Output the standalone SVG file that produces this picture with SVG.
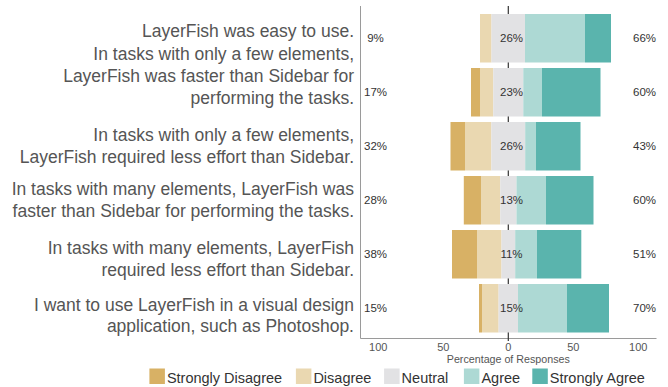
<svg xmlns="http://www.w3.org/2000/svg" width="668" height="387" viewBox="0 0 668 387">
<style>
text{font-family:"Liberation Sans",Arial,sans-serif}
.q{font-size:17.5px;fill:#555;text-anchor:end}
.p{font-size:11.5px;fill:#333;text-anchor:middle}
.t{font-size:11px;fill:#555;text-anchor:middle}
.lg{font-size:14.5px;fill:#333}
.sd{fill:#D8B165}.d{fill:#EAD8B1}.n{fill:#E2E2E4}.a{fill:#ADD9D4}.sa{fill:#5AB4AD}
.frame{stroke:#9a9a9a;stroke-width:1;fill:none}
</style>
<rect width="668" height="387" fill="#fff"/>
<g id="axes">
<path class="frame" d="M360.5 6V338.5H656.5"/>
<line x1="508.3" y1="6" x2="508.3" y2="341" stroke="#333" stroke-width="1.2"/>
<text class="t" x="378.3" y="351">100</text>
<text class="t" x="443.3" y="351">50</text>
<text class="t" x="508.3" y="351">0</text>
<text class="t" x="573.3" y="351">50</text>
<text class="t" x="638.3" y="351">100</text>
<text class="t" x="508.3" y="363.3" style="font-size:10.7px">Percentage of Responses</text>
</g>
<g id="row1">
<text class="q" x="354" y="36.7">LayerFish was easy to use.</text>
<rect class="d" x="480" y="14" width="11.5" height="48.5"/>
<rect class="n" x="491.5" y="14" width="33.5" height="48.5"/>
<rect class="a" x="525" y="14" width="60" height="48.5"/>
<rect class="sa" x="585" y="14" width="26" height="48.5"/>
<text class="p" x="375.5" y="42.3">9%</text>
<text class="p" x="511.5" y="42.3">26%</text>
<text class="p" x="644.5" y="42.3">66%</text>
</g>
<g id="row2">
<text class="q" x="354" y="59.5">In tasks with only a few elements,</text>
<text class="q" x="354" y="81.5">LayerFish was faster than Sidebar for</text>
<text class="q" x="354" y="103.5">performing the tasks.</text>
<rect class="sd" x="471" y="68" width="9" height="48.5"/>
<rect class="d" x="480" y="68" width="13.3" height="48.5"/>
<rect class="n" x="493.3" y="68" width="30" height="48.5"/>
<rect class="a" x="523.3" y="68" width="18.7" height="48.5"/>
<rect class="sa" x="542" y="68" width="58.5" height="48.5"/>
<text class="p" x="375.5" y="96.3">17%</text>
<text class="p" x="511.5" y="96.3">23%</text>
<text class="p" x="644.5" y="96.3">60%</text>
</g>
<g id="row3">
<text class="q" x="354" y="140.7">In tasks with only a few elements,</text>
<text class="q" x="354" y="162.7">LayerFish required less effort than Sidebar.</text>
<rect class="sd" x="450.5" y="122" width="14.5" height="48.5"/>
<rect class="d" x="465" y="122" width="26.4" height="48.5"/>
<rect class="n" x="491.4" y="122" width="33.8" height="48.5"/>
<rect class="a" x="525.2" y="122" width="10.8" height="48.5"/>
<rect class="sa" x="536" y="122" width="44.5" height="48.5"/>
<text class="p" x="375.5" y="150.3">32%</text>
<text class="p" x="511.5" y="150.3">26%</text>
<text class="p" x="644.5" y="150.3">43%</text>
</g>
<g id="row4">
<text class="q" x="354" y="195">In tasks with many elements, LayerFish was</text>
<text class="q" x="354" y="216.8">faster than Sidebar for performing the tasks.</text>
<rect class="sd" x="463.8" y="176" width="17.2" height="48.5"/>
<rect class="d" x="481" y="176" width="19.3" height="48.5"/>
<rect class="n" x="500.3" y="176" width="16.2" height="48.5"/>
<rect class="a" x="516.5" y="176" width="29.5" height="48.5"/>
<rect class="sa" x="546" y="176" width="47.5" height="48.5"/>
<text class="p" x="375.5" y="204.3">28%</text>
<text class="p" x="511.5" y="204.3">13%</text>
<text class="p" x="644.5" y="204.3">60%</text>
</g>
<g id="row5">
<text class="q" x="354" y="254">In tasks with many elements, LayerFish</text>
<text class="q" x="354" y="275.5">required less effort than Sidebar.</text>
<rect class="sd" x="452" y="230" width="25" height="48.5"/>
<rect class="d" x="477" y="230" width="24.5" height="48.5"/>
<rect class="n" x="501.5" y="230" width="13.7" height="48.5"/>
<rect class="a" x="515.2" y="230" width="21.8" height="48.5"/>
<rect class="sa" x="537" y="230" width="44.3" height="48.5"/>
<text class="p" x="375.5" y="258.3">38%</text>
<text class="p" x="511.5" y="258.3">11%</text>
<text class="p" x="644.5" y="258.3">51%</text>
</g>
<g id="row6">
<text class="q" x="354" y="311">I want to use LayerFish in a visual design</text>
<text class="q" x="354" y="332">application, such as Photoshop.</text>
<rect class="sd" x="479" y="284" width="3" height="48.5"/>
<rect class="d" x="482" y="284" width="16.6" height="48.5"/>
<rect class="n" x="498.6" y="284" width="19.4" height="48.5"/>
<rect class="a" x="518" y="284" width="49" height="48.5"/>
<rect class="sa" x="567" y="284" width="42" height="48.5"/>
<text class="p" x="375.5" y="312.3">15%</text>
<text class="p" x="511.5" y="312.3">15%</text>
<text class="p" x="644.5" y="312.3">70%</text>
</g>
<g id="legend">
<rect class="sd" x="149.4" y="368.5" width="15.5" height="15.5"/>
<text class="lg" x="166.9" y="383">Strongly Disagree</text>
<rect class="d" x="295.9" y="368.5" width="15.5" height="15.5"/>
<text class="lg" x="313.4" y="383">Disagree</text>
<rect class="n" x="384.1" y="368.5" width="15.5" height="15.5"/>
<text class="lg" x="401.6" y="383">Neutral</text>
<rect class="a" x="463.9" y="368.5" width="15.5" height="15.5"/>
<text class="lg" x="481.4" y="383">Agree</text>
<rect class="sa" x="532.3" y="368.5" width="15.5" height="15.5"/>
<text class="lg" x="549.8" y="383">Strongly Agree</text>
</g>
</svg>
